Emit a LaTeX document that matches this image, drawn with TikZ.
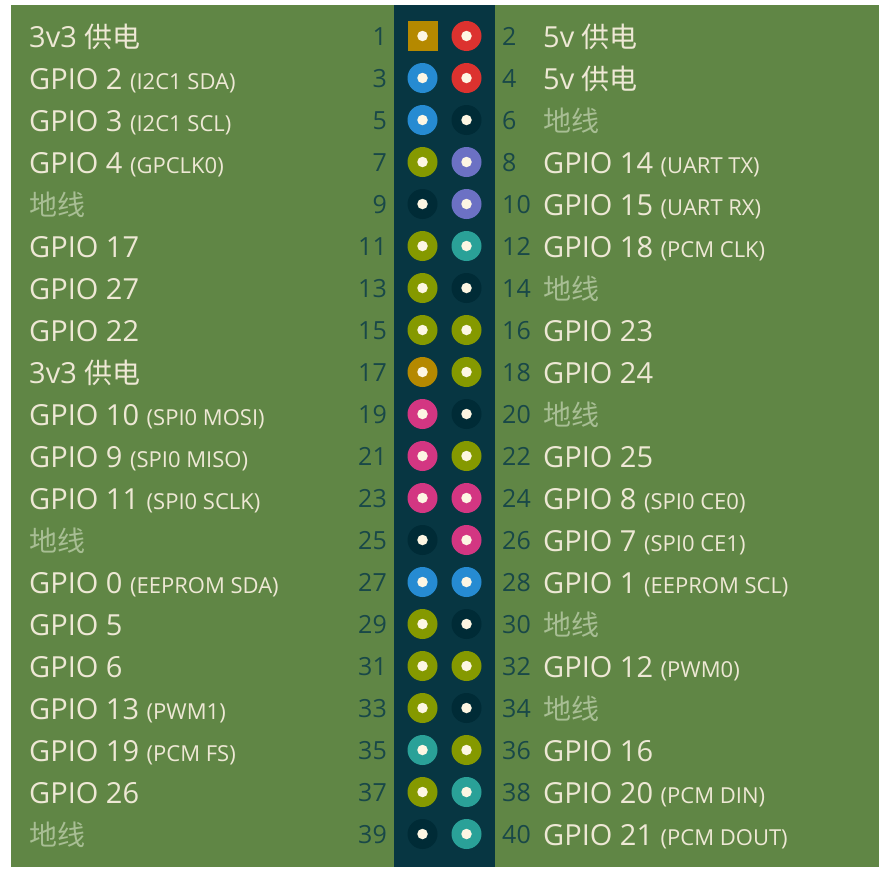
\documentclass[tikz,border=0pt]{standalone}
\usepackage{fontspec}
\setmainfont{Open Sans}
\newfontfamily\cjk{Noto Sans CJK SC}
\definecolor{bg}{RGB}{96,134,69}
\definecolor{strip}{RGB}{7,54,66}
\definecolor{pgnd}{RGB}{0,43,54}
\definecolor{dotc}{RGB}{253,246,227}
\definecolor{cream}{RGB}{238,232,213}
\definecolor{gndtxt}{RGB}{168,190,148}
\definecolor{numc}{RGB}{25,72,72}
\definecolor{pyel}{RGB}{181,137,0}
\definecolor{pred}{RGB}{220,50,47}
\definecolor{pblue}{RGB}{38,139,210}
\definecolor{pgrn}{RGB}{133,153,0}
\definecolor{pvio}{RGB}{108,113,196}
\definecolor{pcyan}{RGB}{42,161,152}
\definecolor{pmag}{RGB}{211,54,130}
\newcommand\subt[1]{{\fontsize{22}{24}\selectfont(#1)}}
\newcommand\cjkt[1]{{\fontsize{28}{30}\selectfont\cjk #1}}
\newcommand\gnd{\textcolor{gndtxt}{\cjkt{地线}}}
\newcommand\pwr[1]{#1 \cjkt{供电}}
\begin{document}
\begin{tikzpicture}[x=1pt,y=-1pt,
  pinc/.style={circle,minimum size=30pt,inner sep=0pt,draw=none},
  pinsq/.style={rectangle,minimum size=30pt,inner sep=0pt,draw=none},
  pdot/.style={circle,fill=dotc,minimum size=10.5pt,inner sep=0pt,draw=none},
  lbl/.style={font=\fontsize{29}{31}\selectfont,text=cream,inner sep=0pt},
  num/.style={font=\fontsize{25}{28}\selectfont,text=numc,inner sep=0pt}]
\useasboundingbox (0,0) rectangle (882,870);
\fill[white] (0,0) rectangle (882,870);
\fill[bg] (11,5) rectangle (879,867);
\fill[strip] (394,5) rectangle (495,867);
% pin 1 (square)
\node[pinsq,fill=pyel] (p1) at (422.5,36) {};
\node[pdot] (d1) at (p1.center) {};
\node[num,anchor=base east] (n1) at (387,45) {1};
\node[lbl,anchor=base west] (l1) at (29,47) {\pwr{3v3}};
% odd pins
\foreach \n/\c/\t in {
 3/pblue/{GPIO 2 \subt{I2C1 SDA}},
 5/pblue/{GPIO 3 \subt{I2C1 SCL}},
 7/pgrn/{GPIO 4 \subt{GPCLK0}},
 9/pgnd/{\gnd},
 11/pgrn/{GPIO 17},
 13/pgrn/{GPIO 27},
 15/pgrn/{GPIO 22},
 17/pyel/{\pwr{3v3}},
 19/pmag/{GPIO 10 \subt{SPI0 MOSI}},
 21/pmag/{GPIO 9 \subt{SPI0 MISO}},
 23/pmag/{GPIO 11 \subt{SPI0 SCLK}},
 25/pgnd/{\gnd},
 27/pblue/{GPIO 0 \subt{EEPROM SDA}},
 29/pgrn/{GPIO 5},
 31/pgrn/{GPIO 6},
 33/pgrn/{GPIO 13 \subt{PWM1}},
 35/pcyan/{GPIO 19 \subt{PCM FS}},
 37/pgrn/{GPIO 26},
 39/pgnd/{\gnd}}{
  \pgfmathsetmacro\yy{36+42*(\n-1)/2}
  \node[pinc,fill=\c] (p\n) at (422.5,\yy) {};
  \node[pdot] (d\n) at (p\n.center) {};
  \node[num,anchor=base east] (n\n) at (387,\yy+9) {\n};
  \node[lbl,anchor=base west] (l\n) at (29,\yy+11) {\t};
}
% even pins
\foreach \n/\c/\t in {
 2/pred/{\pwr{5v}},
 4/pred/{\pwr{5v}},
 6/pgnd/{\gnd},
 8/pvio/{GPIO 14 \subt{UART TX}},
 10/pvio/{GPIO 15 \subt{UART RX}},
 12/pcyan/{GPIO 18 \subt{PCM CLK}},
 14/pgnd/{\gnd},
 16/pgrn/{GPIO 23},
 18/pgrn/{GPIO 24},
 20/pgnd/{\gnd},
 22/pgrn/{GPIO 25},
 24/pmag/{GPIO 8 \subt{SPI0 CE0}},
 26/pmag/{GPIO 7 \subt{SPI0 CE1}},
 28/pblue/{GPIO 1 \subt{EEPROM SCL}},
 30/pgnd/{\gnd},
 32/pgrn/{GPIO 12 \subt{PWM0}},
 34/pgnd/{\gnd},
 36/pgrn/{GPIO 16},
 38/pcyan/{GPIO 20 \subt{PCM DIN}},
 40/pcyan/{GPIO 21 \subt{PCM DOUT}}}{
  \pgfmathsetmacro\yy{36+42*(\n-2)/2}
  \node[pinc,fill=\c] (p\n) at (466.5,\yy) {};
  \node[pdot] (d\n) at (p\n.center) {};
  \node[num,anchor=base west] (n\n) at (502,\yy+9) {\n};
  \node[lbl,anchor=base west] (l\n) at (543,\yy+11) {\t};
}
\end{tikzpicture}
\end{document}
